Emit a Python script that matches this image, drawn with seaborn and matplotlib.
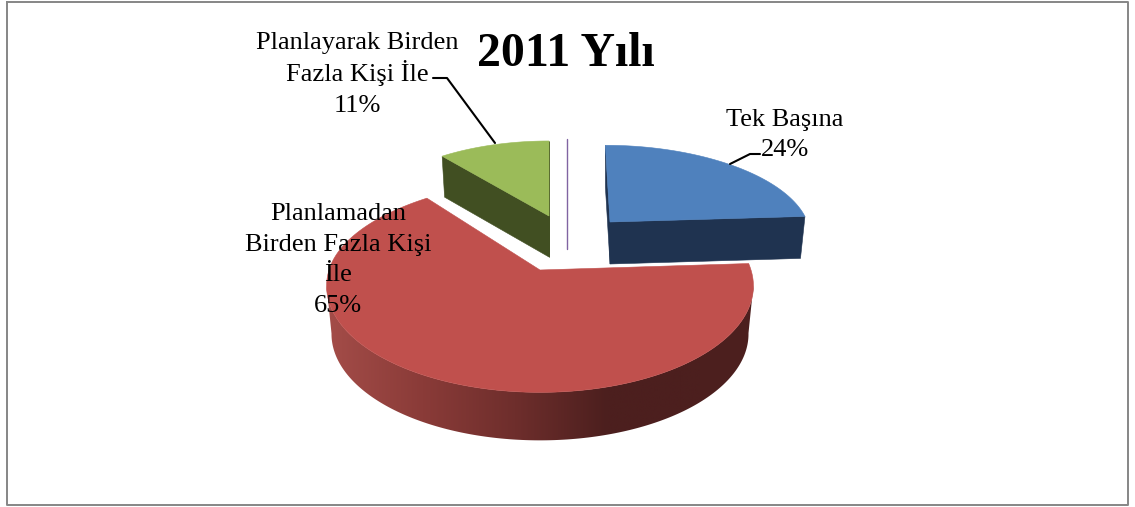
import numpy as np
import matplotlib
matplotlib.use("Agg")
import matplotlib.pyplot as plt
from matplotlib.colors import ListedColormap
from matplotlib.patches import Polygon
import seaborn as sns

# ---- data ----
categories = ["Tek Başına", "Planlamadan\nBirden Fazla Kişi\nİle", "Planlayarak Birden\nFazla Kişi İle", "Diğer"]
shares = [24, 65, 11, 0]
chart_title = "2011 Yılı"

sns.set_theme(style="white")
plt.rcParams["font.family"] = ["Liberation Serif", "DejaVu Serif"]

TOP = ["#4F81BD", "#C0504D", "#9BBB59", "#8064A2"]
SIDE = ["#1F3350", "#4C1F1E", "#414F22", "#8064A2"]
# per-slice projection: apex x, apex y, radius, vertical radius, back shear, depth, perspective
GEOM = [
    (610, 222, 197.5, 90, -5.5, 42, 0.173),
    (540, 270, 211, 104, 14, 48, 0.15),
    (549, 216, 190, 88, 0, 41, 0.173),
    (567, 205, 190, 78, 0, 44, 0.173),
]
SHRINK = 0.977


def project(angle, r, g):
    """Perspective projection of a point on the pie's top plane (angle clockwise from top)."""
    cx, cy, R, Rt, shear, _, k = g
    u, v = r * np.sin(angle), r * np.cos(angle)
    s = 1 / (1 + k * v)
    return cx + (R * u + shear * np.clip(v, 0, None) ** 2) * s, cy - Rt * v * s


def lower(x, y, g):
    return g[0] + (x - g[0]) * SHRINK, y + g[5]


fig = plt.figure(figsize=(11.35, 5.07), dpi=100)
ax = fig.add_axes([0, 0, 1, 1])

ends = np.cumsum(shares) / np.sum(shares) * 2 * np.pi
starts = np.r_[0, ends[:-1]]


def face(xs, ys, color, z):
    ax.fill(xs, ys, color=color, lw=0.4, zorder=z)


for i, (a0, a1, g) in enumerate(zip(starts, ends, GEOM)):
    if a1 - a0 == 0:
        x0, y0 = project(0, 1, g)
        ax.plot([x0, x0], [y0, g[1] + g[5]], color=TOP[i], lw=1.0, zorder=1)
        continue
    t = np.linspace(a0, a1, 240)
    px, py = project(t, 1, g)
    cx, cy = g[0], g[1]
    lx, ly = lower(px, py, g)
    if i == 1:
        ramp = sns.blend_palette(["#A34C48", "#8A3B38", "#6E2E2C", "#4C1F1E", "#4C1F1E"], 256)
        # visible rim: only the front arc between the two horizontal extremes
        ir, il = int(np.argmax(px)), int(np.argmin(px))
        fx, fy = px[ir:il + 1], py[ir:il + 1]
        bx, by = lx[ir:il + 1], ly[ir:il + 1]
        rim = Polygon(np.c_[np.r_[fx, bx[::-1]], np.r_[fy, by[::-1]]], closed=True,
                      transform=ax.transData, fc="none", ec="none")
        ax.add_patch(rim)
        im = ax.imshow(np.linspace(0, 1, 256)[None, :], cmap=ListedColormap(ramp),
                       extent=(330, 700, 460, 180), aspect="auto", zorder=2)
        # extend the ramp's end colours beyond the sides of the rim
        for ext, val in (((300, 330, 460, 180), 0.0), ((700, 770, 460, 180), 1.0)):
            side = ax.imshow([[val]], cmap=ListedColormap(ramp), vmin=0, vmax=1,
                             extent=ext, aspect="auto", zorder=2)
            side.set_clip_path(rim)
        im.set_clip_path(rim)
    else:
        # radial cut faces
        for k in (0, -1):
            face([px[k], cx, cx, lx[k]], [py[k], cy, cy + g[5], ly[k]], SIDE[i], 2)
    face(np.r_[cx, px], np.r_[cy, py], TOP[i], 3)

# leader lines
ax.plot([730, 750, 760], [164, 154, 154], color="black", lw=1.5, zorder=4)
ax.plot([495, 447, 433], [143, 78, 78], color="black", lw=1.5, zorder=4)

# labels: centre x, baseline of the last line, line step
LABEL_POS = [(785, 156, 30), (338, 312, 30.7), (357, 112, 31.5)]
for (x, y, step), name, val in zip(LABEL_POS, categories, shares):
    lines = f"{name}\n{val}%".split("\n")
    for n, line in enumerate(reversed(lines)):
        ax.text(x, y - n * step, line, ha="center", va="baseline", fontsize=19,
                color="black", zorder=5)

ax.text(566, 66, chart_title, ha="center", va="baseline", fontsize=34.4,
        fontweight="bold", color="black", zorder=5)

# chart frame
ax.plot([7, 1128, 1128, 7, 7], [2, 2, 505, 505, 2], color="#868686", lw=1.4, zorder=6)

ax.set_xlim(0, 1135)
ax.set_ylim(507, 0)
ax.axis("off")

fig.savefig("out.png", dpi=100)
